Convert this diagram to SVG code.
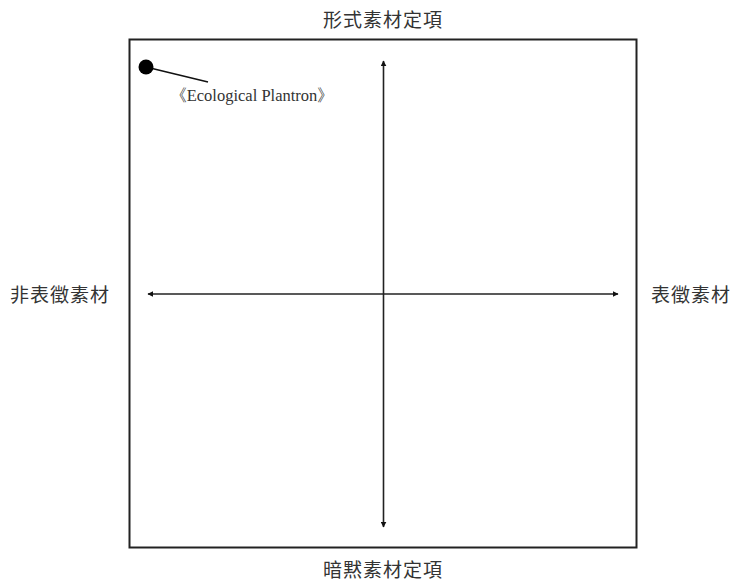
<svg xmlns="http://www.w3.org/2000/svg" width="736" height="581" viewBox="0 0 736 581">
<defs>
<style>
.lbl{font-family:"Noto Sans CJK TC","Noto Sans CJK SC",sans-serif;font-size:19px;fill:#333;letter-spacing:1px}
.ax{stroke:#222;stroke-width:1.6;fill:none}
.note{font-family:"Liberation Serif",serif;font-size:16.5px;fill:#333}
</style>
<marker id="ah" viewBox="0 0 10 10" refX="9" refY="5" markerWidth="6" markerHeight="6" orient="auto-start-reverse" markerUnits="userSpaceOnUse">
<path d="M0,0 L10,5 L0,10 Z" fill="#111"/>
</marker>
</defs>
<rect width="736" height="581" fill="#fff"/>
<g id="frame">
<rect x="129.5" y="39.5" width="507" height="508" fill="none" stroke="#222" stroke-width="2"/>
</g>
<g id="connectors">
<line class="ax" x1="383.5" y1="61" x2="383.5" y2="527" marker-start="url(#ah)" marker-end="url(#ah)"/>
<line class="ax" x1="148" y1="294" x2="618" y2="294" marker-start="url(#ah)" marker-end="url(#ah)"/>
<line x1="146" y1="67" x2="208" y2="82" stroke="#111" stroke-width="1.6"/>
</g>
<g id="plantron">
<circle cx="146" cy="67" r="7.5" fill="#000"/>
<text class="note" x="252" y="101" text-anchor="middle">《Ecological Plantron》</text>
</g>
<g id="top"><text class="lbl" x="383" y="27" text-anchor="middle">形式素材定項</text></g>
<g id="bottom"><text class="lbl" x="383" y="577" text-anchor="middle">暗黙素材定項</text></g>
<g id="left"><text class="lbl" x="60" y="302" text-anchor="middle">非表徵素材</text></g>
<g id="right"><text class="lbl" x="691" y="302" text-anchor="middle">表徵素材</text></g>
</svg>
